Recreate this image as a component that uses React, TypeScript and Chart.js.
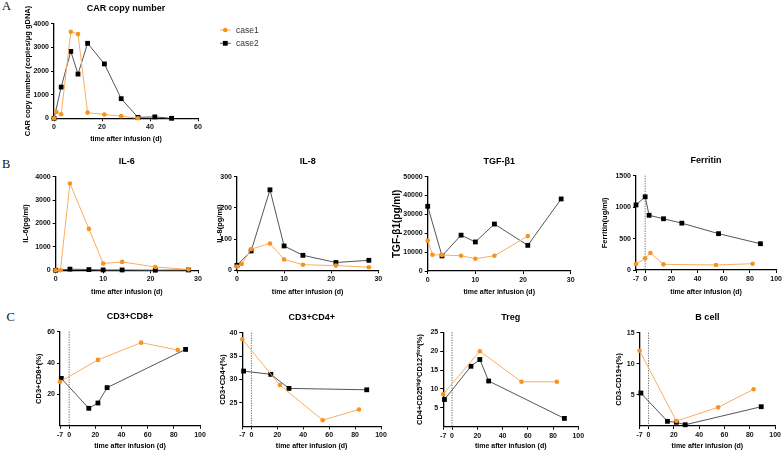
import React, { useEffect, useRef } from 'react';
import { Chart, registerables } from 'chart.js';

Chart.register(...registerables);

// ---------------- DATA ----------------
const carDays1 = [0, 1, 3, 7, 10, 14, 21, 28, 35];
const carCase1 = [0, 270, 170, 3660, 3560, 240, 160, 90, 0];
const carDays2 = [0, 3, 7, 10, 14, 21, 28, 35, 42, 49];
const carCase2 = [0, 1320, 2830, 1870, 3170, 2300, 830, 40, 60, 0];

const il6Days1 = [0, 1, 3, 7, 10, 14, 21, 28];
const il6Case1 = [0, 0, 3710, 1770, 290, 360, 140, 40];
const il6Days2 = [0, 3, 7, 10, 14, 21, 28];
const il6Case2 = [0, 50, 30, 15, 15, 5, 15];

const il8Days1 = [0, 1, 3, 7, 10, 14, 21, 28];
const il8Case1 = [12, 20, 68, 86, 35, 18, 15, 10];
const il8Days2 = [0, 3, 7, 10, 14, 21, 28];
const il8Case2 = [16, 62, 258, 78, 48, 25, 32];

const tgfDays1 = [0, 1, 3, 7, 10, 14, 21];
const tgfCase1 = [16100, 8600, 8500, 8100, 6500, 8100, 18500];
const tgfDays2 = [0, 3, 7, 10, 14, 21, 28];
const tgfCase2 = [34300, 8000, 19000, 15400, 24900, 13600, 38200];

const ferDays1 = [-7, 0, 4, 14, 54, 82];
const ferCase1 = [95, 185, 270, 90, 80, 100];
const ferDays2 = [-7, 0, 3, 14, 28, 56, 88];
const ferCase2 = [1035, 1165, 870, 815, 745, 578, 418];

const cellDays1 = [-7, 22, 55, 83];
const cellDays2 = [-6, 15, 22, 29, 89];
const cd4Days2 = [-6, 15, 29, 89];

const cd8Case1 = [28, 42, 53, 48.3];
const cd8Case2 = [30.2, 11.1, 14.5, 24.3, 48.7];
const cd4Case1 = [38.6, 28.8, 21.3, 23.6];
const cd4Case2 = [31.8, 31.1, 28.1, 27.8];
const tregCase1 = [8.6, 20.0, 11.9, 11.9];
const tregCase2 = [7.2, 16, 17.8, 12.1, 2.2];
const bcellCase1 = [12.1, 0.8, 3.0, 5.9];
const bcellCase2 = [5.3, 0.75, 0.6, 0.2, 3.1];

const seriesNames = ['case1', 'case2'];
const xTicks30 = [0, 10, 20, 30];
const xTicks60 = [0, 20, 40, 60];
const xTicks100 = [-7, 0, 20, 40, 60, 80, 100];
const xTitle = 'time after infusion (d)';

// ---------------- STYLE ----------------
const FONT = "'Liberation Sans', Arial, sans-serif";
const ORANGE = '#F7931E';
const ORANGE_LINE = '#F8AE62';
const BLACK = '#000000';
const GRAY_LINE = '#555555';

type Panel = {
  id: string;
  title: string;
  yTitle: string;
  yTitleSize: number;
  L: number; R: number; T: number; B: number;
  Yx: number; Xy: number; pr: number; titleGap: number;
  xMin: number; xMax: number; xTicks: number[];
  yMin: number; yMax: number; yTicks: number[];
  d1: number[]; v1: number[]; d2: number[]; v2: number[];
  zeroLine?: boolean; legend?: boolean;
};

const panels: Panel[] = [
  { id: 'car', title: 'CAR copy number', yTitle: 'CAR copy number (copies/μg gDNA)', yTitleSize: 7.5,
    L: 54, R: 198, T: 23.7, B: 118.3, Yx: 28, Xy: 139, pr: 70, titleGap: 15.5,
    xMin: 0, xMax: 60, xTicks: xTicks60, yMin: 0, yMax: 4000, yTicks: [0, 1000, 2000, 3000, 4000],
    d1: carDays1, v1: carCase1, d2: carDays2, v2: carCase2, legend: true },
  { id: 'il6', title: 'IL-6', yTitle: 'IL-6(pg/ml)', yTitleSize: 7.5,
    L: 55.7, R: 198, T: 176.7, B: 270.3, Yx: 26.3, Xy: 291.7, pr: 12, titleGap: 15,
    xMin: 0, xMax: 30, xTicks: xTicks30, yMin: 0, yMax: 4000, yTicks: [0, 1000, 2000, 3000, 4000],
    d1: il6Days1, v1: il6Case1, d2: il6Days2, v2: il6Case2 },
  { id: 'il8', title: 'IL-8', yTitle: 'IL-8(pg/ml)', yTitleSize: 7.5,
    L: 237, R: 378.3, T: 176.7, B: 270.3, Yx: 219.5, Xy: 291.7, pr: 12, titleGap: 15,
    xMin: 0, xMax: 30, xTicks: xTicks30, yMin: 0, yMax: 300, yTicks: [0, 100, 200, 300],
    d1: il8Days1, v1: il8Case1, d2: il8Days2, v2: il8Case2 },
  { id: 'tgf', title: 'TGF-β1', yTitle: 'TGF-β1(pg/ml)', yTitleSize: 10,
    L: 427.7, R: 570.7, T: 176.7, B: 271, Yx: 397.5, Xy: 291.7, pr: 12, titleGap: 15,
    xMin: 0, xMax: 30, xTicks: xTicks30, yMin: 0, yMax: 50000, yTicks: [0, 10000, 20000, 30000, 40000, 50000],
    d1: tgfDays1, v1: tgfCase1, d2: tgfDays2, v2: tgfCase2 },
  { id: 'fer', title: 'Ferritin', yTitle: 'Ferritin(ug/ml)', yTitleSize: 7.5,
    L: 636, R: 777, T: 175.7, B: 270, Yx: 605.3, Xy: 291.7, pr: 7, titleGap: 15,
    xMin: -7, xMax: 100, xTicks: xTicks100, yMin: 0, yMax: 1500, yTicks: [0, 500, 1000, 1500],
    d1: ferDays1, v1: ferCase1, d2: ferDays2, v2: ferCase2, zeroLine: true },
  { id: 'cd8', title: 'CD3+CD8+', yTitle: 'CD3+CD8+(%)', yTitleSize: 7.5,
    L: 60, R: 200, T: 331.7, B: 425.7, Yx: 38.8, Xy: 446, pr: 12, titleGap: 15,
    xMin: -7, xMax: 100, xTicks: xTicks100, yMin: 0, yMax: 60, yTicks: [20, 40, 60],
    d1: cellDays1, v1: cd8Case1, d2: cellDays2, v2: cd8Case2, zeroLine: true },
  { id: 'cd4', title: 'CD3+CD4+', yTitle: 'CD3+CD4+(%)', yTitleSize: 7.5,
    L: 242.3, R: 381, T: 332.7, B: 426.3, Yx: 222.5, Xy: 446, pr: 12, titleGap: 15,
    xMin: -7, xMax: 100, xTicks: xTicks100, yMin: 20, yMax: 40, yTicks: [25, 30, 35, 40],
    d1: cellDays1, v1: cd4Case1, d2: cd4Days2, v2: cd4Case2, zeroLine: true },
  { id: 'treg', title: 'Treg', yTitle: 'CD4+CD25ʰⁱᵍʰCD127ˡᵒʷ(%)', yTitleSize: 7.5,
    L: 443.2, R: 578.3, T: 332.3, B: 426.7, Yx: 419.5, Xy: 446, pr: 12, titleGap: 15,
    xMin: -7, xMax: 100, xTicks: xTicks100, yMin: 0, yMax: 25, yTicks: [5, 10, 15, 20, 25],
    d1: cellDays1, v1: tregCase1, d2: cellDays2, v2: tregCase2, zeroLine: true },
  { id: 'bcell', title: 'B cell', yTitle: 'CD3-CD19+(%)', yTitleSize: 7.5,
    L: 639.6, R: 778, T: 332.7, B: 426, Yx: 618.8, Xy: 446, pr: 5, titleGap: 15,
    xMin: -7, xMax: 100, xTicks: xTicks100, yMin: 0, yMax: 15, yTicks: [5, 10, 15],
    d1: cellDays1, v1: bcellCase1, d2: cellDays2, v2: bcellCase2, zeroLine: true },
];

const TITLE_SIZE = 9;
const XTITLE_SIZE = 7;

function geom(p: Panel) {
  const lh = TITLE_SIZE * 1.2;
  const titlePadBottom = p.titleGap - lh / 2;
  const titleBox = lh + titlePadBottom;
  const W = p.L - p.Yx + p.yTitleSize * 0.6;
  const H = p.Xy - p.B + XTITLE_SIZE * 0.6;
  const cx = Math.floor(p.L - W);
  const cy = Math.floor(p.T - titleBox - 3);
  const cw = Math.ceil(p.R + p.pr - cx);
  const ch = Math.ceil(p.B + H - cy);
  return {
    cx, cy, cw, ch,
    yAxisW: p.L - cx,
    xAxisH: cy + ch - p.B,
    yTitlePadTop: p.L - cx - W,
    xTitlePadBottom: cy + ch - p.B - H,
    padTop: p.T - titleBox - cy,
    padRight: cx + cw - p.R,
    titlePadBottom,
  };
}

const zeroLinePlugin = {
  id: 'zeroLine',
  beforeDatasetsDraw(chart: any, _args: any, opts: any) {
    if (!opts || !opts.enabled) return;
    const x = chart.scales.x.getPixelForValue(0);
    const { top, bottom } = chart.chartArea;
    const ctx = chart.ctx;
    ctx.save();
    ctx.strokeStyle = '#555';
    ctx.lineWidth = 0.9;
    ctx.setLineDash([1.2, 1.3]);
    ctx.beginPath();
    ctx.moveTo(x, top);
    ctx.lineTo(x, bottom);
    ctx.stroke();
    ctx.restore();
  },
};

const customLegendPlugin = {
  id: 'customLegend',
  afterDraw(chart: any, _args: any, opts: any) {
    if (!opts || !opts.enabled) return;
    const ctx = chart.ctx;
    const { right, top } = chart.chartArea;
    const items = [
      { label: seriesNames[0], line: ORANGE_LINE, fill: ORANGE, style: 'circle', dy: 6.3 },
      { label: seriesNames[1], line: GRAY_LINE, fill: BLACK, style: 'rect', dy: 19.6 },
    ];
    ctx.save();
    for (const it of items) {
      const y = top + it.dy;
      ctx.strokeStyle = it.line;
      ctx.lineWidth = 1;
      ctx.beginPath();
      ctx.moveTo(right + 22, y);
      ctx.lineTo(right + 32.7, y);
      ctx.stroke();
      ctx.fillStyle = it.fill;
      if (it.style === 'circle') {
        ctx.beginPath();
        ctx.arc(right + 27.3, y, 2.3, 0, Math.PI * 2);
        ctx.fill();
      } else {
        ctx.fillRect(right + 27.3 - 2.4, y - 2.4, 4.8, 4.8);
      }
      ctx.fillStyle = '#333';
      ctx.font = `8.5px ${FONT}`;
      ctx.textBaseline = 'middle';
      ctx.textAlign = 'left';
      ctx.fillText(it.label, right + 38, y + 0.5);
    }
    ctx.restore();
  },
};

function makeChart(canvas: HTMLCanvasElement, p: Panel) {
  const g = geom(p);
  const tickFont = { family: FONT, size: 7, weight: 'bold' as const };
  const pts = (d: number[], v: number[]) => d.map((x, i) => ({ x, y: v[i] }));
  return new Chart(canvas, {
    type: 'line',
    data: {
      datasets: [
        {
          label: seriesNames[0],
          data: pts(p.d1, p.v1),
          borderColor: ORANGE_LINE,
          backgroundColor: ORANGE,
          pointBackgroundColor: ORANGE,
          pointBorderColor: ORANGE,
          pointStyle: 'circle',
          pointRadius: 2.3,
          pointBorderWidth: 0,
          borderWidth: 1,
          tension: 0,
          clip: false as any,
        },
        {
          label: seriesNames[1],
          data: pts(p.d2, p.v2),
          borderColor: GRAY_LINE,
          backgroundColor: BLACK,
          pointBackgroundColor: BLACK,
          pointBorderColor: BLACK,
          pointStyle: 'rect',
          pointRadius: 3.4,
          pointBorderWidth: 0,
          borderWidth: 1,
          tension: 0,
          clip: false as any,
        },
      ],
    },
    options: {
      responsive: false,
      animation: false,
      devicePixelRatio: 1,
      layout: { padding: { left: 0, top: g.padTop, right: g.padRight, bottom: 0 } },
      plugins: {
        legend: { display: false },
        tooltip: { enabled: false },
        title: {
          display: true,
          text: p.title,
          fullSize: false,
          color: '#000',
          font: { family: FONT, size: TITLE_SIZE, weight: 'bold' },
          padding: { top: 0, bottom: g.titlePadBottom },
        },
        zeroLine: { enabled: !!p.zeroLine },
        customLegend: { enabled: !!p.legend },
      } as any,
      scales: {
        x: {
          type: 'linear',
          min: p.xMin,
          max: p.xMax,
          afterBuildTicks: (s: any) => { s.ticks = p.xTicks.map((v) => ({ value: v })); },
          afterFit: (s: any) => { s.height = g.xAxisH; },
          border: { display: true, color: '#000', width: 1.3 },
          grid: { display: true, drawOnChartArea: false, drawTicks: true, tickLength: 3, color: '#000', lineWidth: 1 },
          ticks: { font: tickFont, color: '#111', padding: 2, maxRotation: 0, autoSkip: false, callback: (v: any) => String(v) },
          title: { display: true, text: xTitle, color: '#000', font: { family: FONT, size: XTITLE_SIZE, weight: 'bold' }, padding: { top: 0, bottom: g.xTitlePadBottom } },
        },
        y: {
          type: 'linear',
          min: p.yMin,
          max: p.yMax,
          afterBuildTicks: (s: any) => { s.ticks = p.yTicks.map((v) => ({ value: v })); },
          afterFit: (s: any) => { s.width = g.yAxisW; },
          border: { display: true, color: '#000', width: 1.3 },
          grid: { display: true, drawOnChartArea: false, drawTicks: true, tickLength: 3, color: '#000', lineWidth: 1 },
          ticks: { font: tickFont, color: '#111', padding: 2, autoSkip: false, callback: (v: any) => String(v) },
          title: { display: true, text: p.yTitle, color: '#000', font: { family: FONT, size: p.yTitleSize, weight: 'bold' }, padding: { top: g.yTitlePadTop, bottom: 0 } },
        },
      },
    } as any,
    plugins: [zeroLinePlugin, customLegendPlugin],
  });
}

const letters = [
  { t: 'A', left: 2, top: -1 },
  { t: 'B', left: 2, top: 157 },
  { t: 'C', left: 6.5, top: 310 },
];

export default function App() {
  const refs = useRef<(HTMLCanvasElement | null)[]>([]);
  useEffect(() => {
    const charts = panels.map((p, i) => makeChart(refs.current[i] as HTMLCanvasElement, p));
    return () => charts.forEach((c) => c.destroy());
  }, []);
  return (
    <div style={{ position: 'absolute', left: 0, top: 0, width: 784, height: 453, background: '#fff', overflow: 'hidden' }}>
      {panels.map((p, i) => {
        const g = geom(p);
        return (
          <canvas
            key={p.id}
            ref={(el) => { refs.current[i] = el; }}
            width={g.cw}
            height={g.ch}
            style={{ position: 'absolute', left: g.cx, top: g.cy, width: g.cw, height: g.ch }}
          />
        );
      })}
      {letters.map((l) => (
        <div key={l.t} style={{ position: 'absolute', left: l.left, top: l.top, fontFamily: "'Liberation Serif', 'Times New Roman', serif", fontSize: 12.5, lineHeight: '14px', color: '#111' }}>
          {l.t}
        </div>
      ))}
    </div>
  );
}
